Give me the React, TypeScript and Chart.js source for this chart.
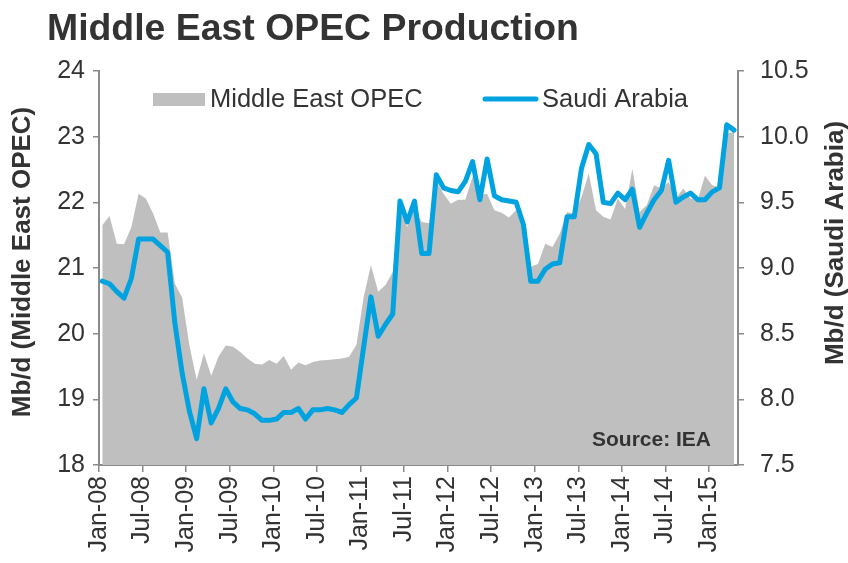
import React, { useEffect, useRef } from "react";
import { Chart, registerables } from "chart.js";

Chart.register(...registerables);

// ---- data ----
const xTickLabels = [
  "Jan-08", "Jul-08", "Jan-09", "Jul-09", "Jan-10", "Jul-10", "Jan-11", "Jul-11",
  "Jan-12", "Jul-12", "Jan-13", "Jul-13", "Jan-14", "Jul-14", "Jan-15",
];
const monthsPerTick = 6;
const monthCount = 88; // Jan-08 .. Apr-15
const midMonth = 0.45; // monthly values plotted mid-month

// Middle East OPEC production, mb/d (left axis), Jan-08 .. Apr-15
const middleEastOpec = [
  21.65, 21.79, 21.37, 21.36, 21.62, 22.13, 22.06, 21.83, 21.54, 21.54,
  20.76, 20.55, 19.82, 19.30, 19.70, 19.36, 19.65, 19.82, 19.80, 19.72,
  19.62, 19.54, 19.53, 19.60, 19.54, 19.66, 19.45, 19.56, 19.52, 19.57,
  19.59, 19.60, 19.61, 19.62, 19.65, 19.83, 20.56, 21.04, 20.64, 20.74,
  20.94, 21.90, 21.63, 21.90, 21.70, 21.68, 22.33, 22.13, 21.98, 22.04,
  22.04, 22.39, 22.11, 22.13, 21.88, 21.84, 21.77, 21.88, 21.57, 21.02,
  21.06, 21.37, 21.32, 21.52, 21.85, 21.83, 22.08, 22.44, 21.88, 21.78,
  21.74, 22.06, 21.90, 22.51, 21.85, 21.96, 22.26, 22.21, 22.31, 22.06,
  22.21, 22.06, 22.03, 22.41, 22.26, 22.23, 23.05, 23.07,
];

// Saudi Arabia production, mb/d (right axis), Jan-08 .. Apr-15
const saudiArabia = [
  8.90, 8.88, 8.82, 8.77, 8.92, 9.22, 9.22, 9.22, 9.17, 9.12,
  8.58, 8.20, 7.91, 7.70, 8.08, 7.82, 7.93, 8.08, 7.98, 7.93,
  7.92, 7.89, 7.84, 7.84, 7.85, 7.90, 7.90, 7.93, 7.85, 7.92,
  7.92, 7.93, 7.92, 7.90, 7.96, 8.01, 8.40, 8.78, 8.48, 8.57,
  8.65, 9.51, 9.35, 9.51, 9.11, 9.11, 9.71, 9.61, 9.59, 9.58,
  9.66, 9.81, 9.52, 9.83, 9.55, 9.52, 9.51, 9.50, 9.33, 8.90,
  8.90, 8.99, 9.03, 9.04, 9.39, 9.39, 9.76, 9.94, 9.87, 9.50,
  9.49, 9.57, 9.52, 9.60, 9.31, 9.42, 9.52, 9.59, 9.82, 9.50,
  9.54, 9.57, 9.52, 9.52, 9.58, 9.61, 10.09, 10.05,
];

const leftMin = 18;
const leftMax = 24;
const leftStep = 1;
const rightMin = 7.5;
const rightMax = 10.5;
const rightStep = 0.5;

const chartTitle = "Middle East OPEC Production";
const leftAxisTitle = "Mb/d (Middle East OPEC)";
const rightAxisTitle = "Mb/d (Saudi Arabia)";
const sourceNote = "Source: IEA";
const seriesNames = ["Middle East OPEC", "Saudi Arabia"];

// ---- styles ----
const FONT = '"Liberation Sans", Arial, Helvetica, sans-serif';
const TEXT = "#333333";
const AXIS = "#8a8a8a";
const GREY = "#BFBFBF";
const BLUE = "#00A3E0";

const W = 848;
const H = 563;

function drawRotated(ctx: CanvasRenderingContext2D, text: string, x: number, y: number) {
  ctx.save();
  ctx.translate(x, y);
  ctx.rotate(-Math.PI / 2);
  ctx.fillText(text, 0, 0);
  ctx.restore();
}

const decorPlugin = {
  id: "decor",
  afterDraw(chart: any) {
    const ctx: CanvasRenderingContext2D = chart.ctx;
    ctx.save();
    ctx.textBaseline = "alphabetic";
    ctx.fillStyle = TEXT;

    // title
    ctx.textAlign = "left";
    ctx.font = `bold 37.4px ${FONT}`;
    ctx.fillText(chartTitle, 47, 40);

    // legend
    ctx.fillStyle = GREY;
    ctx.fillRect(153, 93, 52, 13);
    ctx.fillStyle = TEXT;
    ctx.font = `25.5px ${FONT}`;
    ctx.fillText(seriesNames[0], 210, 107);
    ctx.strokeStyle = BLUE;
    ctx.lineWidth = 5;
    ctx.lineCap = "round";
    ctx.beginPath();
    ctx.moveTo(485, 99);
    ctx.lineTo(536, 99);
    ctx.stroke();
    ctx.fillText(seriesNames[1], 542, 107);

    // source
    ctx.font = `bold 21px ${FONT}`;
    ctx.fillText(sourceNote, 592, 446);

    // axis titles (read bottom to top)
    ctx.font = `bold 26px ${FONT}`;
    ctx.textAlign = "center";
    drawRotated(ctx, leftAxisTitle, 30, 262);
    drawRotated(ctx, rightAxisTitle, 843, 243);

    ctx.restore();
  },
};

export default function App() {
  const ref = useRef<HTMLCanvasElement>(null);

  useEffect(() => {
    const canvas = ref.current;
    if (!canvas) return;

    const areaData = middleEastOpec.map((v, i) => ({ x: i + midMonth, y: v }));
    const lineData = saudiArabia.map((v, i) => ({ x: i + midMonth, y: v }));

    const chart = new Chart(canvas, {
      type: "line",
      data: {
        datasets: [
          {
            label: seriesNames[1],
            data: lineData,
            xAxisID: "x",
            yAxisID: "yR",
            borderColor: BLUE,
            borderWidth: 5,
            borderCapStyle: "round",
            borderJoinStyle: "round",
            pointRadius: 0,
            fill: false,
            tension: 0,
            order: 1,
          },
          {
            label: seriesNames[0],
            data: areaData,
            xAxisID: "x",
            yAxisID: "yL",
            backgroundColor: GREY,
            borderColor: GREY,
            borderWidth: 0,
            pointRadius: 0,
            fill: "start",
            tension: 0,
            order: 2,
          },
        ],
      },
      options: {
        responsive: false,
        animation: false,
        devicePixelRatio: 1,
        layout: { padding: { top: 71, left: 0, right: 0, bottom: 0 } },
        plugins: {
          legend: { display: false },
          title: { display: false },
          tooltip: { enabled: false },
        },
        scales: {
          x: {
            type: "linear",
            position: "bottom",
            min: 0,
            max: monthCount,
            afterBuildTicks: (s: any) => {
              s.ticks = xTickLabels.map((_, k) => ({ value: k * monthsPerTick }));
            },
            afterFit: (s: any) => {
              s.height = H - 465;
            },
            ticks: {
              autoSkip: false,
              maxRotation: 90,
              minRotation: 90,
              padding: 4,
              color: TEXT,
              font: { family: FONT, size: 25 },
              callback: (_v: any, i: number) => xTickLabels[i],
            },
            grid: {
              drawOnChartArea: false,
              drawTicks: true,
              tickLength: 7,
              color: AXIS,
              lineWidth: 1.5,
            },
            border: { color: AXIS, width: 2 },
          },
          yL: {
            type: "linear",
            position: "left",
            min: leftMin,
            max: leftMax,
            afterFit: (s: any) => {
              s.width = 99;
            },
            ticks: {
              stepSize: leftStep,
              padding: 8,
              color: TEXT,
              font: { family: FONT, size: 25 },
            },
            grid: {
              drawOnChartArea: false,
              drawTicks: true,
              tickLength: 6,
              color: AXIS,
              lineWidth: 1.5,
            },
            border: { color: AXIS, width: 2 },
          },
          yR: {
            type: "linear",
            position: "right",
            min: rightMin,
            max: rightMax,
            afterFit: (s: any) => {
              s.width = W - 738;
            },
            ticks: {
              stepSize: rightStep,
              padding: 16,
              color: TEXT,
              font: { family: FONT, size: 25 },
              callback: (v: any) => Number(v).toFixed(1),
            },
            grid: {
              drawOnChartArea: false,
              drawTicks: true,
              tickLength: 6,
              color: AXIS,
              lineWidth: 1.5,
            },
            border: { color: AXIS, width: 2 },
          },
        },
      } as any,
      plugins: [decorPlugin],
    });

    return () => chart.destroy();
  }, []);

  return (
    <div style={{ position: "absolute", left: 0, top: 0, width: W, height: H, background: "#ffffff" }}>
      <canvas ref={ref} width={W} height={H} style={{ display: "block", width: W, height: H }} />
    </div>
  );
}
